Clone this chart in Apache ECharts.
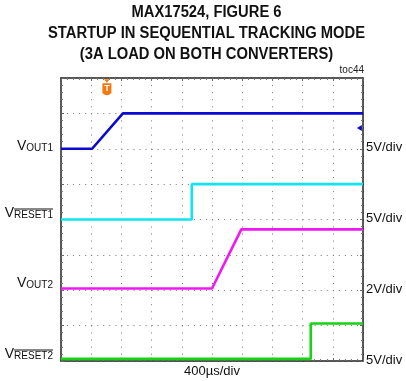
<!DOCTYPE html>
<html>
<head>
<meta charset="utf-8">
<script src="https://cdn.jsdelivr.net/npm/echarts@6/dist/echarts.min.js"></script>
<style>
  html, body { margin: 0; padding: 0; background: #fff; }
  #chart01 { width: 406px; height: 381px; }
</style>
</head>
<body>
<div id="chart01"></div>
<script>
// time in divisions (400us/div), level in screen divisions (0 = bottom of screen)
var vout1Time = [0, 1.03, 2.05, 10];
var vout1Level = [6.0, 6.0, 7.0, 7.0];
var reset1Time = [0, 4.33, 4.33, 10];
var reset1Level = [4.0, 4.0, 5.0, 5.0];
var vout2Time = [0, 5.0, 5.97, 10];
var vout2Level = [2.05, 2.05, 3.72, 3.72];
var reset2Time = [0, 8.27, 8.27, 10];
var reset2Level = [0.06, 0.06, 1.06, 1.06];

var channelNames = ['OUT1', 'RESET1', 'OUT2', 'RESET2'];
var channelBar = [false, true, false, true];
var channelScales = ['5V/div', '5V/div', '2V/div', '5V/div'];
var channelGround = [6, 4, 2, 0];
var triggerPoint = [[1.52, 7.74]];
var levelMarker = [[9.88, 6.59]];

var titleLines = ['MAX17524, FIGURE 6', 'STARTUP IN SEQUENTIAL TRACKING MODE', '(3A LOAD ON BOTH CONVERTERS)'];
var timeScale = '400\u00b5s/div';
var tocLabel = 'toc44';

var colors = ['#0a0ad2', '#10e4f0', '#f018f0', '#14d414'];
var labelShift = [-3, -6.5, -7, -7];
var fontFam = '"Liberation Sans", Arial, sans-serif';
var narrowFam = '"Liberation Sans Narrow", "Arial Narrow", "Liberation Sans", Arial, sans-serif';

function pairs(t, v) {
  return t.map(function (x, i) { return [x, v[i]]; });
}

function axisX(pos, grid) {
  return {
    type: 'value', min: 0, max: 10, interval: 1, position: pos,
    axisLine: { show: true, onZero: false, lineStyle: { color: '#222', width: 1.5 } },
    axisTick: { show: true, inside: true, length: 3, lineStyle: { color: '#666' } },
    minorTick: { show: true, splitNumber: 5, length: 2, lineStyle: { color: '#777' } },
    axisLabel: { show: false },
    splitLine: { show: grid, lineStyle: { color: '#777', width: 1, type: [1, 6.07] } }
  };
}
function axisY(pos, grid) {
  return {
    type: 'value', min: 0, max: 8, interval: 1, position: pos,
    axisLine: { show: true, onZero: false, lineStyle: { color: '#222', width: 1.5 } },
    axisTick: { show: true, inside: true, length: 3, lineStyle: { color: '#666' } },
    minorTick: { show: true, splitNumber: 5, length: 2, lineStyle: { color: '#777' } },
    axisLabel: { show: false },
    splitLine: { show: grid, lineStyle: { color: '#777', width: 1, type: [1, 5.04] } }
  };
}

function trace(name, t, v, color) {
  return {
    name: name, type: 'line', xAxisIndex: 0, yAxisIndex: 0,
    data: pairs(t, v), showSymbol: false, animation: false,
    lineStyle: { color: color, width: 2.6 }
  };
}

var chart01 = echarts.init(document.getElementById('chart01'));
var option_c01 = {
  animation: false,
  grid: { left: 61, top: 78, width: 302, height: 283 },
  xAxis: [axisX('bottom', true), axisX('top', false)],
  yAxis: [axisY('left', true), axisY('right', false)],
  series: [
    trace('VOUT1', vout1Time, vout1Level, colors[0]),
    trace('VRESET1', reset1Time, reset1Level, colors[1]),
    trace('VOUT2', vout2Time, vout2Level, colors[2]),
    trace('VRESET2', reset2Time, reset2Level, colors[3]),
    {
      type: 'scatter', data: triggerPoint, z: 5,
      symbol: 'path://M2,0 L7,0 L4.5,3 Z M0.5,3.6 L8.5,3.6 L8.5,12 Q4.5,16 0.5,12 Z',
      symbolSize: [9, 16],
      itemStyle: { color: '#f5780f', opacity: 1 },
      label: { show: true, formatter: 'T', color: '#fff', fontSize: 9, fontWeight: 'bold', position: 'inside', offset: [0, 1.5] }
    },
    {
      type: 'scatter', data: levelMarker, z: 5,
      symbol: 'triangle', symbolRotate: 90, symbolSize: [6, 5],
      itemStyle: { color: colors[0], opacity: 1 }
    }
  ]
};
chart01.setOption(option_c01);

var ctx = document.createElement('canvas').getContext('2d');
function textW(text, font) { ctx.font = font; return ctx.measureText(text).width; }

var graphics = [];
// title, squeezed to the reference width
var titleFont = 'bold 16px ' + narrowFam;
var titleScale = 317 / textW(titleLines[1], titleFont);
var titleY = [13, 34, 55];
titleLines.forEach(function (line, i) {
  graphics.push({
    type: 'text', x: 206.5, y: titleY[i], scaleX: Math.min(1, titleScale),
    style: { text: line, font: titleFont, fill: '#111', align: 'center', verticalAlign: 'middle', textAlign: 'center', textVerticalAlign: 'middle' }
  });
});
graphics.push({
  type: 'text', x: 364, y: 70,
  style: { text: tocLabel, font: '10px ' + fontFam, fill: '#222', align: 'right', verticalAlign: 'middle', textAlign: 'right', textVerticalAlign: 'middle' }
});
graphics.push({
  type: 'text', x: 212, y: 371,
  style: { text: timeScale, font: '13px ' + fontFam, fill: '#111', align: 'center', verticalAlign: 'middle', textAlign: 'center', textVerticalAlign: 'middle' }
});

channelNames.forEach(function (name, i) {
  var gy = chart01.convertToPixel({ yAxisIndex: 0 }, channelGround[i]);
  var ly = gy + labelShift[i];
  var subW = textW(name, '10px ' + fontFam);
  graphics.push({
    type: 'text', x: 53 - subW, y: ly,
    style: { text: 'V', font: '14px ' + fontFam, fill: '#111', align: 'right', verticalAlign: 'middle', textAlign: 'right', textVerticalAlign: 'middle' }
  });
  graphics.push({
    type: 'text', x: 53, y: ly + 2,
    style: { text: name, font: '10px ' + fontFam, fill: '#111', align: 'right', verticalAlign: 'middle', textAlign: 'right', textVerticalAlign: 'middle' }
  });
  if (channelBar[i]) {
    graphics.push({
      type: 'line', shape: { x1: 53 - subW, y1: ly - 4, x2: 53, y2: ly - 4 },
      style: { stroke: '#111', lineWidth: 1 }
    });
  }
  graphics.push({
    type: 'text', x: 366, y: gy - 1,
    style: { text: channelScales[i], font: '13px ' + fontFam, fill: '#111', align: 'left', verticalAlign: 'middle', textAlign: 'left', textVerticalAlign: 'middle' }
  });
});

chart01.setOption({ graphic: graphics });
</script>
</body>
</html>
